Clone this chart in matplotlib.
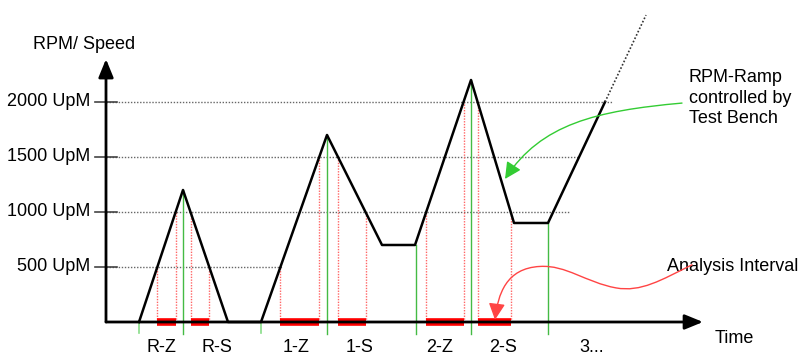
import numpy as np
import matplotlib
matplotlib.use("Agg")
import matplotlib.pyplot as plt
from matplotlib.patches import FancyArrowPatch
from matplotlib.path import Path

plt.rcParams['font.family'] = ['Liberation Sans', 'DejaVu Sans']

# speed profile (time in arbitrary units, rpm)
ramp_t = [3.3, 7.7, 12.2, 15.5, 22.1, 27.6, 30.9, 36.5, 40.8, 44.2, 49.9]
ramp_rpm = [0, 1200, 0, 0, 1700, 700, 700, 2200, 900, 900, 2000]
ext_t = [49.9, 54.0]
ext_rpm = [2000, 2790]

grid_levels = [500, 1000, 1500, 2000]
grid_ends = [17.6, 46.4, 47.2, 50.7]
tick_labels = ['500 UpM', '1000 UpM', '1500 UpM', '2000 UpM']

# analysis intervals: label, ramp segment (start idx), rpm from, rpm to
iv_labels = ['R-Z', 'R-S', '1-Z', '1-S', '2-Z', '2-S']
iv_segment = [0, 1, 3, 4, 6, 7]
iv_from = [500, 1000, 500, 1500, 1000, 2000]
iv_to = [1000, 500, 1500, 1000, 2000, 1000]
label_t = [5.5, 11.1, 19.0, 25.4, 33.4, 39.7]

# green markers: start/peak/hold times
green_short = [3.3, 15.5]
green_long_t = [7.7, 22.1, 31.0, 36.5, 44.2]
green_long_rpm = [1200, 1700, 700, 2200, 900]

fig = plt.figure(figsize=(8.06, 3.55), dpi=100)
ax = fig.add_axes([0, 0, 1, 1])
ax.set_xlim(-10.6, 70.0)
ax.set_ylim(-300, 2927)
ax.axis('off')

pad = -100  # below baseline
fs = 13

for lvl, end, lab in zip(grid_levels, grid_ends, tick_labels):
    ax.plot([0, end], [lvl, lvl], color='#666666', lw=1.0, ls=(0, (1, 1.2)), zorder=1)
    ax.plot([-1.1, 1.1], [lvl, lvl], color='#444444', lw=1.2, zorder=2)
    ax.text(-1.6, lvl, lab, ha='right', va='center', fontsize=fs)

def cross(seg, level):
    t0, t1 = ramp_t[seg], ramp_t[seg + 1]
    r0, r1 = ramp_rpm[seg], ramp_rpm[seg + 1]
    return t0 + (level - r0) / (r1 - r0) * (t1 - t0)

for seg, a, b in zip(iv_segment, iv_from, iv_to):
    ta, tb = cross(seg, a), cross(seg, b)
    for t, lvl in ((ta, a), (tb, b)):
        ax.plot([t, t], [0, lvl], color='#ff6666', lw=1.0, ls=(0, (1, 1)), zorder=2)
    ax.plot([ta, tb], [0, 0], color='#ff0000', lw=5.5, solid_capstyle='butt', zorder=4)

for t in green_short:
    ax.plot([t, t], [pad, 0], color='#88dd88', lw=1.2, zorder=2)
for t, r in zip(green_long_t, green_long_rpm):
    ax.plot([t, t], [pad - 10, r], color='#44bb44', lw=1.0, zorder=2)

ax.plot(ramp_t, ramp_rpm, color='black', lw=1.8, zorder=3)
ax.plot(ext_t, ext_rpm, color='#333333', lw=1.2, ls=(0, (1, 1.2)), zorder=3)

# axes with arrows
ax.annotate('', xy=(59.7, 0), xytext=(0, 0),
            arrowprops=dict(arrowstyle='-|>,head_length=1.1,head_width=0.45',
                            color='black', lw=2.0, shrinkA=0, shrinkB=0), zorder=5)
ax.annotate('', xy=(0, 2390), xytext=(0, 0),
            arrowprops=dict(arrowstyle='-|>,head_length=1.1,head_width=0.45',
                            color='black', lw=2.0, shrinkA=0, shrinkB=0), zorder=5)

ax.text(-7.3, 2520, 'RPM/ Speed', ha='left', va='center', fontsize=fs)
ax.text(60.9, -150, 'Time', ha='left', va='center', fontsize=fs)
for lab, t in zip(iv_labels, label_t):
    ax.text(t, -235, lab, ha='center', va='center', fontsize=fs)
ax.text(48.6, -235, '3...', ha='center', va='center', fontsize=fs)

ax.text(58.3, 2300, 'RPM-Ramp\ncontrolled by\nTest Bench', ha='left', va='top',
        fontsize=fs, linespacing=1.28)
ax.text(56.1, 500, 'Analysis Interval', ha='left', va='center', fontsize=fs)

green_path = Path([(57.6, 1990), (49.0, 1920), (43.5, 1800), (39.9, 1300)],
                  [Path.MOVETO, Path.CURVE4, Path.CURVE4, Path.CURVE4])
ax.add_patch(FancyArrowPatch(path=green_path, color='#33cc33', lw=1.0,
                             arrowstyle='-|>,head_length=10,head_width=5', zorder=6))

red_path = Path([(58.6, 520), (55.5, 380), (53.5, 270), (51.0, 310),
                 (48.0, 360), (46.0, 520), (43.4, 505),
                 (40.0, 490), (39.2, 250), (38.9, 20)],
                [Path.MOVETO, Path.CURVE4, Path.CURVE4, Path.CURVE4,
                 Path.CURVE4, Path.CURVE4, Path.CURVE4,
                 Path.CURVE4, Path.CURVE4, Path.CURVE4])
ax.add_patch(FancyArrowPatch(path=red_path, color='#ff4444', lw=1.0,
                             arrowstyle='-|>,head_length=10,head_width=5', zorder=6))

fig.savefig('out.png', dpi=100)
